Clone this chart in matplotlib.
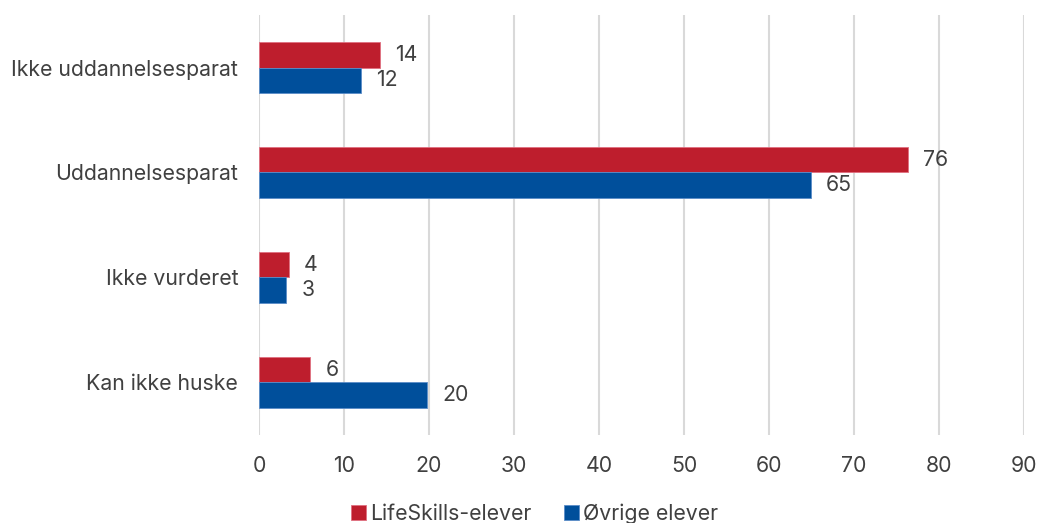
import matplotlib.pyplot as plt
import numpy as np

plt.rcParams['font.family'] = ['Inter', 'DejaVu Sans']

categories = ["Ikke uddannelsesparat", "Uddannelsesparat", "Ikke vurderet", "Kan ikke huske"]
lifeskills = [14.2, 76.3, 3.5, 6.0]
ovrige = [12.0, 64.9, 3.2, 19.8]
series_names = ["LifeSkills-elever", "Øvrige elever"]

red = "#BE1E2D"
blue = "#004F9B"
text_col = "#404040"
fs = 15.3

fig = plt.figure(figsize=(10.39, 5.23), dpi=100)
ax = fig.add_axes([0.2493, 0.1683, 0.7363, 0.803])

y = np.arange(len(categories))
h = 0.24
b1 = ax.barh(y - h / 2, lifeskills, height=h, color=red, edgecolor="#E07080", linewidth=0.6,
             label=series_names[0], zorder=3)
b2 = ax.barh(y + h / 2, ovrige, height=h, color=blue, edgecolor="#5A8CC8", linewidth=0.6,
             label=series_names[1], zorder=3)

for bars, vals in ((b1, lifeskills), (b2, ovrige)):
    ax.bar_label(bars, labels=[f"{v:.0f}" for v in vals], padding=11, fontsize=fs, color=text_col)

ax.set_xlim(0, 90)
ax.set_xticks(range(0, 91, 10))
ax.set_ylim(len(categories) - 0.5, -0.5)
ax.set_yticks(y)
ax.set_yticklabels(categories)
ax.grid(axis="x", color="#D9D9D9", linewidth=1.5, zorder=0)
for s in ax.spines.values():
    s.set_visible(False)
ax.tick_params(axis="both", length=0, labelsize=fs, labelcolor=text_col)
ax.tick_params(axis="y", pad=15)
ax.tick_params(axis="x", pad=15)

fig.legend(handles=[b1, b2], loc="center", bbox_to_anchor=(0.5145, 0.017), ncol=2, frameon=False,
           fontsize=fs, labelcolor=text_col, handlelength=0.7, handleheight=0.7,
           handletextpad=0.2, columnspacing=1.5)

fig.savefig("out.png", dpi=100)
